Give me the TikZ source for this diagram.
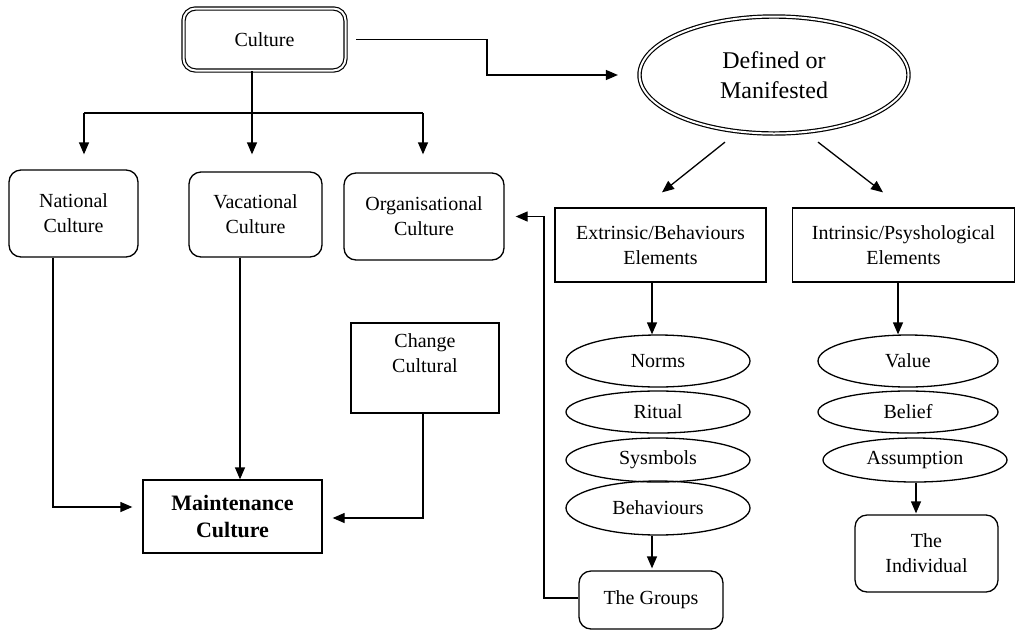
\documentclass[tikz,border=0pt]{standalone}
\usepackage{fontspec}
\setmainfont{Liberation Serif}
\usetikzlibrary{arrows.meta,shapes.geometric,calc}
\tikzset{
  base/.style={draw=black, line width=1.3pt, align=center, inner sep=0pt,
    font=\fontsize{20}{25}\selectfont},
  rbox/.style={base, rectangle, rounded corners=12pt},
  sbox/.style={base, rectangle},
  ell/.style={base, ellipse},
  dbl/.style={double, double distance=2pt, line width=1.2pt},
  arr/.style={draw=black, line width=1.3pt, -{Triangle[length=12pt,width=10pt]}},
  ln/.style={draw=black, line width=1.3pt},
}
\begin{document}
\begin{tikzpicture}[x=1pt,y=-1pt]
\useasboundingbox (0,0) rectangle (1016,630);

% top nodes
\node[rbox, dbl, minimum width=162pt, minimum height=62pt] (culture) at (264.5,39.5) {Culture};
\node[ell, dbl, minimum width=269pt, minimum height=117pt,
  font=\fontsize{24}{30}\selectfont] (defined) at (774,75) {Defined or\\Manifested};

% culture types
\node[rbox, minimum width=129pt, minimum height=87pt] (national) at (73.5,213.5) {National\\Culture};
\node[rbox, minimum width=133pt, minimum height=85pt] (vacational) at (255.5,214.5) {Vacational\\Culture};
\node[rbox, minimum width=160pt, minimum height=87pt] (organisational) at (424,216.5) {Organisational\\Culture};

% elements
\node[sbox, minimum width=211pt, minimum height=74pt] (extrinsic) at (660.5,245) {Extrinsic/Behaviours\\Elements};
\node[sbox, minimum width=222pt, minimum height=74pt] (intrinsic) at (903.5,245) {Intrinsic/Psyshological\\Elements};

% ellipses left
\node[ell, minimum width=184pt, minimum height=52pt] (norms) at (658,361) {Norms};
\node[ell, minimum width=184pt, minimum height=42pt] (ritual) at (658,412) {Ritual};
\node[ell, minimum width=184pt, minimum height=44pt] (sysmbols) at (658,460) {Sysmbols};
\node[ell, minimum width=184pt, minimum height=54pt] (behaviours) at (658,508) {Behaviours};

% ellipses right
\node[ell, minimum width=180pt, minimum height=52pt] (value) at (908,361) {Value};
\node[ell, minimum width=180pt, minimum height=42pt] (belief) at (908,412) {Belief};
\node[ell, minimum width=184pt, minimum height=44pt] (assumption) at (915,460) {Assumption};

% bottom boxes
\node[rbox, minimum width=143pt, minimum height=77pt] (individual) at (926.5,553.5) {The\\Individual};
\node[rbox, minimum width=144pt, minimum height=58pt] (groups) at (651,600) {The Groups};
\node[sbox, minimum width=148pt, minimum height=90pt,
  label={[anchor=north, align=center, font=\fontsize{20}{25}\selectfont, yshift=-8pt]north:Change\\Cultural}] (change) at (425,368) {};
\node[sbox, minimum width=179pt, minimum height=73pt, font=\bfseries\fontsize{22}{27}\selectfont] (maint) at (232.5,516.5) {Maintenance\\Culture};

% coordinates for bends
\coordinate (k1) at (487,39.5);
\coordinate (t) at (252,113);
\coordinate (tL) at (84,113);
\coordinate (tR) at (423,113);
\coordinate (g1) at (544,216.5);
\coordinate (n1) at (53,507);
\coordinate (m1) at (423,518);

% culture -> defined
\draw[arr, shorten >=21pt] ([xshift=10pt]culture.east) -- (k1) |- (defined.west);

% culture tree
\draw[ln] (t |- culture.south) -- (t);
\draw[ln] (tL) -- (tR);
\draw[arr, shorten >=15pt] (tL) -- (tL |- national.north);
\draw[arr, shorten >=17pt] (t) -- (t |- vacational.north);
\draw[arr, shorten >=18pt] (tR) -- (tR |- organisational.north);

% defined -> elements
\draw[arr] ($(defined.south)+(-49,8)$) -- ($(extrinsic.north)+(1.5,-15)$);
\draw[arr] ($(defined.south)+(44,8)$) -- ($(intrinsic.north)+(-20.5,-15)$);

% elements -> ellipses
\draw[arr] ($(extrinsic.south)+(-8.5,0)$) -- ($(norms.north)+(-6,0)$);
\draw[arr] ($(intrinsic.south)+(-5.5,0)$) -- ($(value.north)+(-10,0)$);

% ellipses -> bottom boxes
\draw[arr] ($(behaviours.south)+(-6,0)$) -- ($(groups.north)+(1,-2)$);
\draw[arr] ($(assumption.south)+(1,0)$) -- ($(individual.north)+(-10.5,-1)$);

% groups -> organisational
\draw[arr, shorten >=11pt] ([yshift=2pt]groups.west) -| (g1) -- (g1 -| organisational.east);

% -> maintenance
\draw[arr, shorten >=10pt] (national.south -| n1) -- (n1) -- (n1 -| maint.west);
\draw[arr] ($(vacational.south)+(-15.5,0)$) -- ($(maint.north)+(7.5,0)$);
\draw[arr, shorten >=10pt] (change.south -| m1) -- (m1) -- (m1 -| maint.east);
\end{tikzpicture}
\end{document}
